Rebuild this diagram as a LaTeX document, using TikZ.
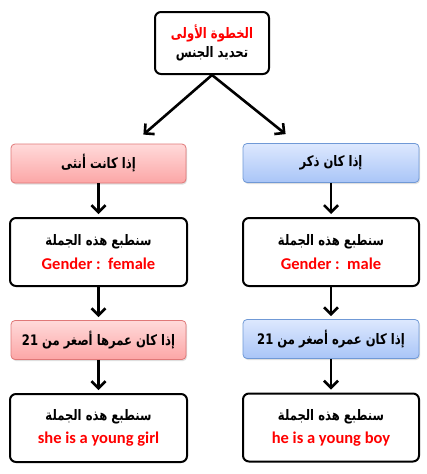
\documentclass[tikz,border=0pt]{standalone}
\usepackage{fontspec}
\setmainfont{Carlito}
\newfontfamily\arabicfont[Script=Arabic,FakeStretch=0.8]{DejaVu Sans}
\TeXXeTstate=1
\usetikzlibrary{arrows.meta,shadows,calc}
\definecolor{pinkT}{HTML}{FFDADA}
\definecolor{pinkB}{HTML}{FCA6A6}
\definecolor{pinkE}{HTML}{E07878}
\definecolor{blueT}{HTML}{DDE8FE}
\definecolor{blueB}{HTML}{A9C5F7}
\definecolor{blueE}{HTML}{7099D6}
\definecolor{txtred}{HTML}{FF0000}
\newcommand{\ar}[1]{{\arabicfont\bfseries\fontsize{14.5}{16}\selectfont\beginR #1\endR}}
\newcommand{\en}[1]{{\bfseries\fontsize{16.5}{18}\selectfont\color{txtred}#1}}
\tikzset{
  whitebox/.style={draw=black, line width=2pt, rounded corners=6pt, fill=white, align=center, inner sep=0pt},
  pinkbox/.style={draw=pinkE, line width=0.8pt, rounded corners=4pt, top color=pinkT, bottom color=pinkB, drop shadow={opacity=0.25,shadow xshift=1pt,shadow yshift=-1.5pt}, align=center, inner sep=0pt, minimum width=175pt, minimum height=39pt},
  bluebox/.style={draw=blueE, line width=0.8pt, rounded corners=4pt, top color=blueT, bottom color=blueB, drop shadow={opacity=0.25,shadow xshift=1pt,shadow yshift=-1.5pt}, align=center, inner sep=0pt, minimum width=176pt, minimum height=39pt},
  arr/.style={line width=2.6pt, -{Straight Barb[length=7pt,width=14pt,line width=2.6pt]}}
}
\begin{document}
\begin{tikzpicture}[x=1pt,y=-1pt]
\fill[white] (0,0) rectangle (427,474);
\useasboundingbox (0,0) rectangle (427,474);
\node[whitebox, minimum width=114pt, minimum height=62pt] (top) at (212,43)
  {{\color{txtred}\ar{الخطوة الأولى}}\\[4pt]\ar{تحديد الجنس}};
% left column
\node[pinkbox] (pinkA) at (98.5,163.5) {\ar{إذا كانت أنثى}};
\node[whitebox, minimum width=177pt, minimum height=68pt] (whiteA) at (98.5,252)
  {\ar{سنطبع هذه الجملة}\\[7pt]\en{Gender :\ \ female}};
\node[pinkbox] (pinkB) at (98.5,340) {\ar{إذا كان عمرها أصغر من \beginL21\endL}};
\node[whitebox, minimum width=177pt, minimum height=68pt] (whiteB) at (98.5,428)
  {\ar{سنطبع هذه الجملة}\\[7pt]\en{she is a young girl}};
% right column
\node[bluebox] (blueA) at (331,163) {\ar{إذا كان ذكر}};
\node[whitebox, minimum width=176pt, minimum height=68pt] (whiteC) at (331,252)
  {\ar{سنطبع هذه الجملة}\\[7pt]\en{Gender :\ \ male}};
\node[bluebox] (blueB) at (331,339) {\ar{إذا كان عمره أصغر من \beginL21\endL}};
\node[whitebox, minimum width=176pt, minimum height=68pt] (whiteD) at (331,427.5)
  {\ar{سنطبع هذه الجملة}\\[7pt]\en{he is a young boy}};
% connectors
\draw[arr] (top.south) -- ([xshift=-43pt,yshift=9pt]pinkA.north east);
\draw[arr] (top.south) -- ([xshift=43pt,yshift=9pt]blueA.north west);
\draw[arr, shorten >=3pt] (pinkA.south) -- (whiteA.north);
\draw[arr, shorten >=3pt] (whiteA.south) -- (pinkB.north);
\draw[arr, shorten >=3pt] (pinkB.south) -- (whiteB.north);
\draw[arr, shorten >=3pt] (blueA.south) -- (whiteC.north);
\draw[arr, shorten >=3pt] (whiteC.south) -- (blueB.north);
\draw[arr, shorten >=3pt] (blueB.south) -- (whiteD.north);
\end{tikzpicture}
\end{document}
